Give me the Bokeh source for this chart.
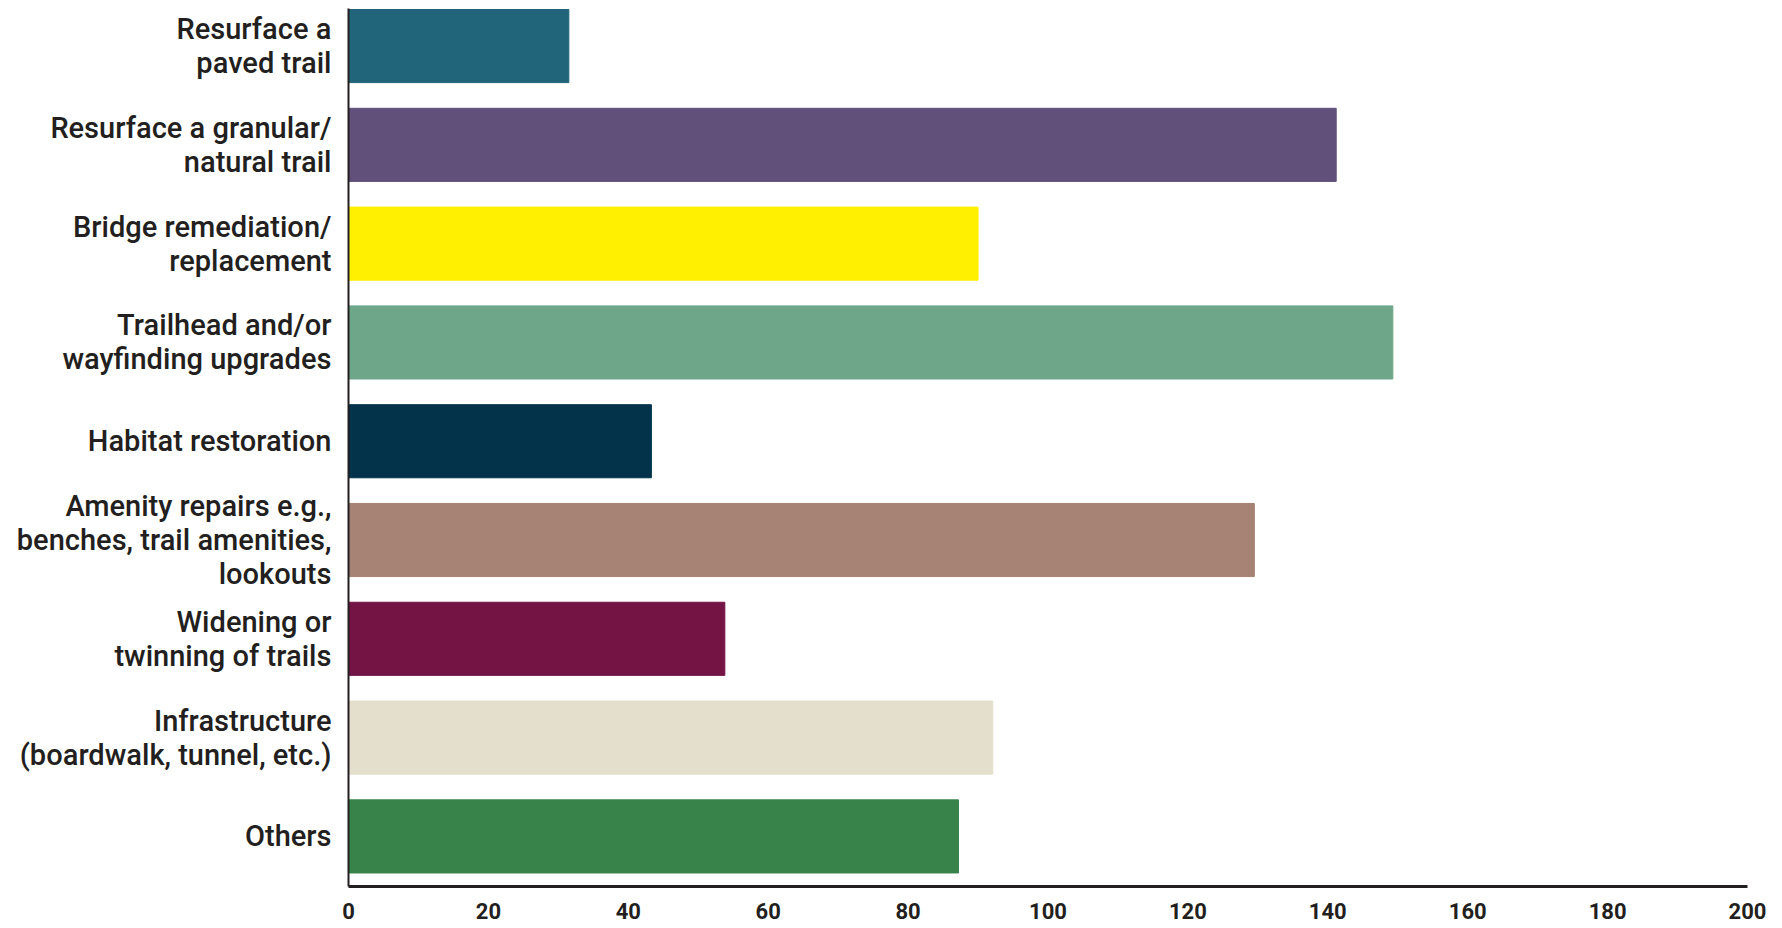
from bokeh.plotting import figure
from bokeh.models import Range1d, FixedTicker, ColumnDataSource
from bokeh.embed import file_html
from bokeh.resources import INLINE

categories = [
    "Resurface a\npaved trail",
    "Resurface a granular/\nnatural trail",
    "Bridge remediation/\nreplacement",
    "Trailhead and/or\nwayfinding upgrades",
    "Habitat restoration",
    "Amenity repairs e.g.,\nbenches, trail amenities,\nlookouts",
    "Widening or\ntwinning of trails",
    "Infrastructure\n(boardwalk, tunnel, etc.)",
    "Others",
]
values = [31.5, 141.2, 90.0, 149.3, 43.3, 129.5, 53.8, 92.1, 87.2]
colors = ["#21657a", "#60507a", "#ffef00", "#6ea68a", "#02334b",
          "#a68374", "#731444", "#e4dfcc", "#37834a"]
x_ticks = [0, 20, 40, 60, 80, 100, 120, 140, 160, 180, 200]

pos = list(range(len(categories)))
src = ColumnDataSource(dict(y=pos, right=values, color=colors))

p = figure(width=1780, height=926, output_backend="svg", toolbar_location=None,
           x_range=Range1d(0, 200), y_range=Range1d(8.507, -0.38),
           min_border_left=348, min_border_right=33, min_border_top=8,
           min_border_bottom=40)

p.hbar(y="y", left=0, right="right", height=0.74, color="color", source=src)

p.xgrid.visible = False
p.ygrid.visible = False
p.outline_line_color = None
p.background_fill_color = "white"
p.border_fill_color = "white"

ink = "#231f20"
xa = p.xaxis[0]
xa.ticker = FixedTicker(ticks=x_ticks)
xa.axis_line_color = ink
xa.axis_line_width = 3
xa.major_tick_line_color = None
xa.minor_tick_line_color = None
xa.major_label_text_font = "Roboto"
xa.major_label_text_font_style = "bold"
xa.major_label_text_font_size = "22px"
xa.major_label_text_color = ink
xa.major_label_standoff = 10

ya = p.yaxis[0]
ya.ticker = FixedTicker(ticks=pos)
ya.major_label_overrides = {i: c for i, c in zip(pos, categories)}
ya.axis_line_color = ink
ya.axis_line_width = 2
ya.major_tick_line_color = None
ya.minor_tick_line_color = None
ya.major_label_text_font = "Roboto Medium, Roboto"
ya.major_label_text_font_size = "29px"
ya.major_label_text_color = ink
ya.major_label_standoff = 11
ya.major_label_text_line_height = 1.0

open("out.html", "w").write(file_html(p, INLINE))
